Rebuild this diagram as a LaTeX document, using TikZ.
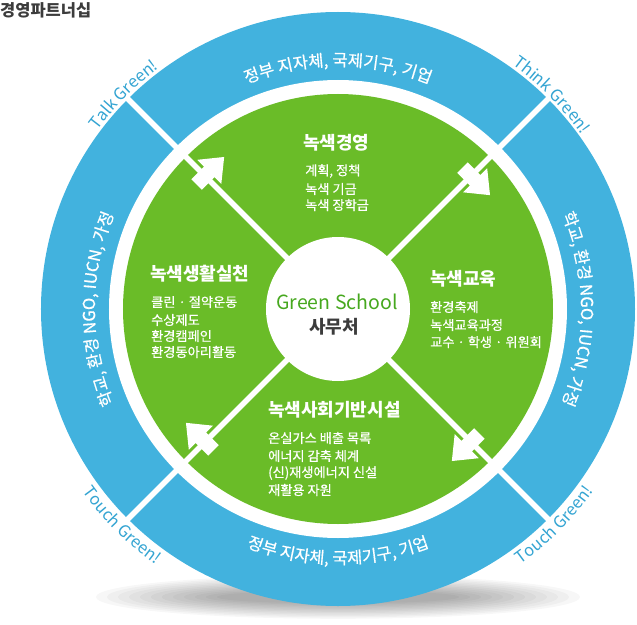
\documentclass[tikz,border=0pt]{standalone}
\usepackage{fontspec}
\setmainfont{Noto Sans CJK KR}
\newfontfamily\krsemi[FakeBold=0.6]{Noto Sans CJK KR}
\usetikzlibrary{decorations.text}
\definecolor{ringblue}{RGB}{66,178,222}
\definecolor{leafgreen}{RGB}{106,188,40}
\definecolor{labelblue}{RGB}{52,164,210}
\definecolor{schoolgreen}{RGB}{70,168,30}
\definecolor{darkgray}{RGB}{60,60,60}
\tikzset{
  titletext/.style={font=\bfseries\fontsize{18}{20}\selectfont,text=white,inner sep=0pt,anchor=west},
  itemtext/.style={font=\krsemi\fontsize{13.2}{15}\selectfont,text=white,inner sep=0pt,anchor=west},
  divider/.style={white,line width=5.5pt},
  flowarrow/.style={fill=white},
  ringtext/.style={decorate,decoration={text along path,text align=center,text={|\krsemi\fontsize{16.5}{18}\selectfont\color{white}|#1}}},
  outerlabel/.style={decorate,decoration={text along path,text align=center,text={|\fontsize{16.5}{18}\selectfont\color{labelblue}|#1}}}
}
\begin{document}
\begin{tikzpicture}[x=1pt,y=1pt]
\useasboundingbox (-338,-315) rectangle (299,309);
% soft shadow under the ring
\foreach \i in {1,...,12}{
  \fill[black,opacity=0.03] (0,-288) ellipse ({110+11*\i} and {5+1.4*\i});
}
% rings and disk
\fill[ringblue] (0,0) circle (297);
\fill[white] (0,0) circle (229);
\fill[leafgreen] (0,0) circle (215);
\draw[divider] (135:300) -- (-45:300);
\draw[divider] (45:300) -- (225:300);
\fill[white] (0,0) circle (72);
% clockwise arrows
\foreach \a in {135,45,-45,225}{
  \begin{scope}[shift={(\a:188)},rotate=\a-90]
    \fill[flowarrow] (-12,-7.5) -- (6,-7.5) -- (6,-17) -- (27,0) -- (6,17) -- (6,7.5) -- (-12,7.5) -- cycle;
  \end{scope}
}
% ring texts
\path[ringtext={정부 지자체, 국제기구, 기업}] (150:243) arc[start angle=150,end angle=30,radius=243];
\path[ringtext={학교, 환경 NGO, IUCN, 가정}] (240:243) arc[start angle=240,end angle=120,radius=243];
\path[ringtext={학교, 환경 NGO, IUCN, 가정}] (60:243) arc[start angle=60,end angle=-60,radius=243];
\path[ringtext={정부 지자체, 국제기구, 기업}] (210:255) arc[start angle=210,end angle=330,radius=255];
% outer labels
\path[outerlabel={Talk Green!}] (165:300) arc[start angle=165,end angle=105,radius=300];
\path[outerlabel={Think Green!}] (75:300) arc[start angle=75,end angle=15,radius=300];
\path[outerlabel={Touch Green!}] (195:314) arc[start angle=195,end angle=255,radius=314];
\path[outerlabel={Touch Green!}] (285:314) arc[start angle=285,end angle=345,radius=314];
% straight texts (pixel coordinates)
\begin{scope}[shift={(-338,309)},yscale=-1]
  \node[font=\bfseries\fontsize{16.5}{18}\selectfont,text=darkgray,inner sep=0pt,anchor=west] (head) at (0,10) {경영파트너십};
  \node[font=\fontsize{19.5}{22}\selectfont,text=schoolgreen,inner sep=0pt] (gs) at (337,302) {Green School};
  \node[font=\bfseries\fontsize{18}{20}\selectfont,text=darkgray,inner sep=0pt] (office) at (334,327) {사무처};
  % top
  \node[titletext] (t1) at (303,143) {녹색경영};
  \node[itemtext] (t1a) at (305,171) {계획, 정책};
  \node[itemtext] (t1b) at (305,189) {녹색 기금};
  \node[itemtext] (t1c) at (305,205) {녹색 장학금};
  % right
  \node[titletext] (t2) at (430,279) {녹색교육};
  \node[itemtext] (t2a) at (430,307) {환경축제};
  \node[itemtext] (t2b) at (430,325) {녹색교육과정};
  \node[itemtext] (t2c) at (430,342) {교수 · 학생 · 위원회};
  % left
  \node[titletext] (t3) at (150,274) {녹색생활실천};
  \node[itemtext] (t3a) at (151,302) {클린 · 절약운동};
  \node[itemtext] (t3b) at (151,320) {수상제도};
  \node[itemtext] (t3c) at (151,336) {환경캠페인};
  \node[itemtext] (t3d) at (151,352) {환경동아리활동};
  % bottom
  \node[titletext] (t4) at (268,410) {녹색사회기반시설};
  \node[itemtext] (t4a) at (268,438) {온실가스 배출 목록};
  \node[itemtext] (t4b) at (268,456) {에너지 감축 체계};
  \node[itemtext] (t4c) at (268,473) {(신)재생에너지 신설};
  \node[itemtext] (t4d) at (268,490) {재활용 자원};
\end{scope}
\end{tikzpicture}
\end{document}
